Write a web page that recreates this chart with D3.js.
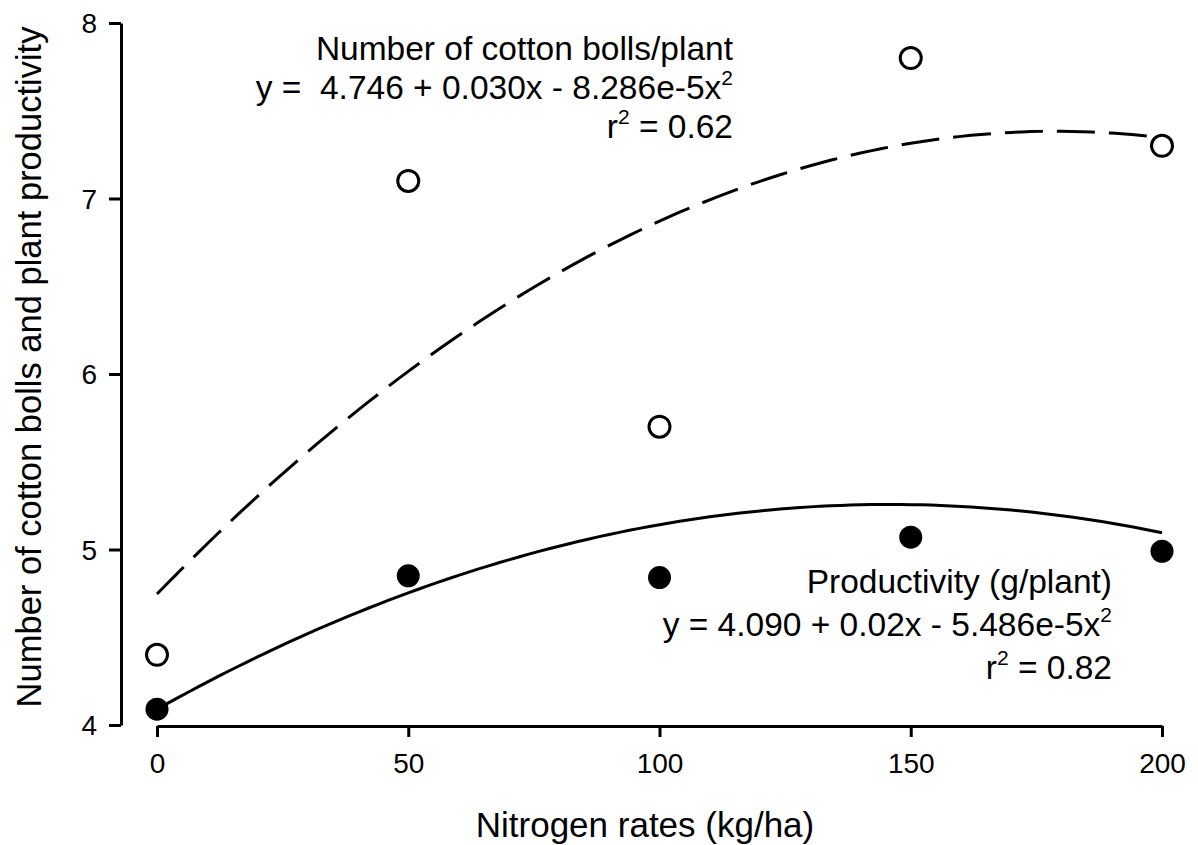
<!DOCTYPE html>
<html>
<head>
<meta charset="utf-8">
<script src="https://cdn.jsdelivr.net/npm/d3@7"></script>
<style>
  html, body { margin: 0; padding: 0; background: #fff; }
  svg { display: block; font-family: "Liberation Sans", Arial, sans-serif; }
  text { white-space: pre; }
</style>
</head>
<body>
<svg id="chart" width="1198" height="845"></svg>
<script>
// ---- data ----
const nitrogenRates = [0, 50, 100, 150, 200];
const cottonBolls = [4.40, 7.10, 5.70, 7.80, 7.30];
const productivity = [4.09, 4.85, 4.84, 5.07, 4.99];
const xTicks = [0, 50, 100, 150, 200];
const yTicks = [4, 5, 6, 7, 8];
// quadratic fit coefficients [a, b, c] (y = a + b x + c x^2), as drawn
const bollsFit = [4.746, 0.0295, -8.25e-5];
const productivityFit = [4.090, 0.016, -5.486e-5];
const xLabel = "Nitrogen rates (kg/ha)";
const yLabel = "Number of cotton bolls and plant productivity";
const bollsText = ["Number of cotton bolls/plant", "y =  4.746 + 0.030x - 8.286e-5x", "r"];
const prodText = ["Productivity (g/plant)", "y = 4.090 + 0.02x - 5.486e-5x", "r"];

const svg = d3.select("#chart");
const x = d3.scaleLinear().domain([0, 200]).range([157, 1162]);
const y = d3.scaleLinear().domain([4, 8]).range([725, 23]);

// axes
const yAxis = d3.axisLeft(y).tickValues(yTicks).tickSize(12).tickSizeOuter(0).tickPadding(12).tickFormat(d3.format("d"));
const gy = svg.append("g").attr("transform", "translate(121,0)").call(yAxis);
const xAxis = d3.axisBottom(x).tickValues(xTicks).tickSize(11).tickSizeOuter(0).tickPadding(16).tickFormat(d3.format("d"));
const gx = svg.append("g").attr("transform", "translate(0,726)").call(xAxis);
[gx, gy].forEach(g => {
  g.selectAll("path.domain").attr("stroke", "#000").attr("stroke-width", 3);
  g.selectAll(".tick line").attr("stroke", "#000").attr("stroke-width", 3);
  g.selectAll(".tick text").attr("fill", "#000").style("font-size", "28px").style("font-family", '"Liberation Sans", Arial, sans-serif');
});
gx.selectAll(".tick text").attr("dy", "0.71em");
gy.selectAll(".tick text").attr("dy", "0.35em");

// axis titles
svg.append("text").attr("x", 645).attr("y", 837).attr("text-anchor", "middle")
  .style("font-size", "35px").text(xLabel);
svg.append("text").attr("transform", "translate(41,367) rotate(-90)").attr("text-anchor", "middle")
  .style("font-size", "34.5px").text(yLabel);

// fit curves
const xs = d3.range(0, 200.001, 2);
const quad = c => v => c[0] + c[1] * v + c[2] * v * v;
const line = d3.line().x(d => x(d[0])).y(d => y(d[1])).curve(d3.curveLinear);
svg.append("path").datum(xs.map(v => [v, quad(bollsFit)(v)]))
  .attr("d", line).attr("fill", "none").attr("stroke", "#000").attr("stroke-width", 3)
  .attr("stroke-dasharray", "38,14");
svg.append("path").datum(xs.map(v => [v, quad(productivityFit)(v)]))
  .attr("d", line).attr("fill", "none").attr("stroke", "#000").attr("stroke-width", 3);

// points
svg.append("g").selectAll("circle").data(nitrogenRates.map((n, i) => [n, cottonBolls[i]]))
  .join("circle").attr("cx", d => x(d[0])).attr("cy", d => y(d[1])).attr("r", 10.5)
  .attr("fill", "#fff").attr("stroke", "#000").attr("stroke-width", 3);
svg.append("g").selectAll("circle").data(nitrogenRates.map((n, i) => [n, productivity[i]]))
  .join("circle").attr("cx", d => x(d[0])).attr("cy", d => y(d[1])).attr("r", 11.5)
  .attr("fill", "#000");

// annotations
function annot(lines, r2, xRight, y0, dy) {
  const g = svg.append("g").style("font-size", "33.5px").attr("text-anchor", "end");
  g.append("text").attr("x", xRight).attr("y", y0).text(lines[0]);
  const t2 = g.append("text").attr("x", xRight).attr("y", y0 + dy).attr("xml:space", "preserve");
  t2.append("tspan").text(lines[1]);
  t2.append("tspan").attr("dy", -14).style("font-size", "21px").text("2");
  const t3 = g.append("text").attr("x", xRight).attr("y", y0 + 2 * dy);
  t3.append("tspan").text(lines[2]);
  t3.append("tspan").attr("dy", -14).style("font-size", "21px").text("2");
  t3.append("tspan").attr("dy", 14).text(" = " + r2);
}
annot(bollsText, "0.62", 733, 60, 39);
annot(prodText, "0.82", 1112, 593, 43);
</script>
</body>
</html>
